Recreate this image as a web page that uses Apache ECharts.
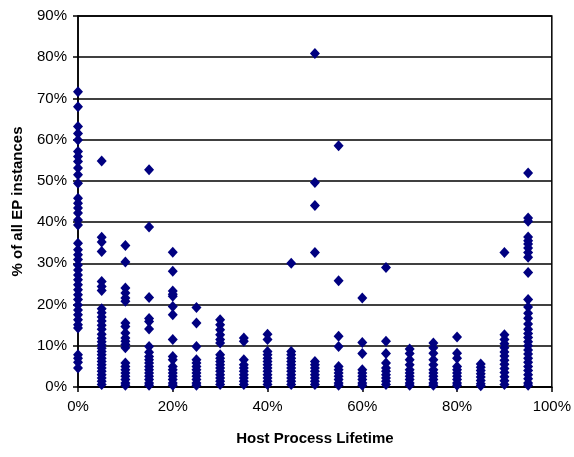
<!DOCTYPE html>
<html>
<head>
<meta charset="utf-8">
<script src="https://cdn.jsdelivr.net/npm/echarts@6/dist/echarts.min.js"></script>
<style>
  html, body { margin: 0; padding: 0; background: #fff; }
  #chart { width: 574px; height: 457px; }
</style>
</head>
<body>
<div id="chart"></div>
<script>
// Host process lifetime buckets (percent)
const lifetimes = [0, 5, 10, 15, 20, 25, 30, 35, 40, 45, 50, 55, 60, 65, 70, 75, 80, 85, 90, 95];

// Share of all EP instances (percent) observed in each lifetime bucket
const at00 = [71.6, 68.0, 63.2, 61.5, 59.9, 57.1, 55.9, 54.7, 53.1, 51.5, 49.4, 45.8, 44.6, 43.4, 42.2, 40.5, 39.3, 34.9, 33.3, 32.1, 30.9, 29.6, 28.4, 27.2, 26.0, 24.8, 23.6, 22.4, 21.2, 19.9, 18.7, 17.5, 16.3, 15.1, 14.3, 7.8, 7.0, 6.0, 4.6];
const at05 = [54.8, 36.3, 35.2, 32.9, 25.6, 24.4, 23.4, 19.0, 18.0, 17.0, 16.0, 15.0, 14.0, 12.8, 11.8, 11.0, 10.2, 9.4, 8.6, 7.8, 7.0, 6.2, 5.4, 4.6, 3.8, 3.0, 2.2, 1.4, 0.6];
const at10 = [34.3, 30.3, 24.0, 22.8, 21.6, 20.8, 15.5, 14.7, 13.1, 11.9, 11.1, 10.3, 9.5, 5.8, 5.0, 4.2, 3.4, 2.6, 1.8, 1.0, 0.4];
const at15 = [52.7, 38.8, 21.7, 16.6, 15.9, 14.1, 9.8, 8.4, 7.4, 6.6, 5.8, 5.0, 4.2, 3.4, 2.6, 1.8, 1.0, 0.4];
const at20 = [32.7, 28.1, 23.3, 22.5, 22.0, 19.5, 17.5, 11.5, 7.4, 6.6, 5.0, 4.2, 3.4, 2.6, 1.8, 1.0, 0.4];
const at25 = [19.3, 15.5, 9.8, 6.6, 5.8, 5.0, 4.2, 3.4, 2.6, 1.8, 1.0, 0.4];
const at30 = [16.3, 15.1, 13.9, 12.7, 11.5, 10.7, 7.8, 7.0, 6.2, 5.4, 4.6, 3.8, 3.0, 2.2, 1.4, 0.6];
const at35 = [11.9, 11.1, 6.6, 5.4, 4.6, 3.8, 3.0, 2.2, 1.4, 0.6];
const at40 = [12.8, 11.5, 8.6, 7.8, 7.0, 6.2, 5.4, 4.6, 3.8, 3.0, 2.2, 1.4, 0.6];
const at45 = [30.0, 8.6, 7.8, 7.0, 6.2, 5.4, 4.6, 3.8, 3.0, 2.2, 1.4, 0.6];
const at50 = [80.9, 49.6, 44.0, 32.6, 6.2, 5.4, 4.6, 3.8, 3.0, 2.2, 1.4, 0.6];
const at55 = [58.5, 25.8, 12.3, 9.8, 5.0, 4.2, 3.4, 2.6, 1.8, 1.0, 0.4];
const at60 = [21.6, 10.8, 8.1, 4.2, 3.4, 2.6, 1.8, 1.0, 0.4];
const at65 = [29.0, 11.1, 8.1, 5.8, 4.6, 3.8, 3.0, 2.2, 1.4, 0.6];
const at70 = [9.2, 8.1, 6.6, 5.4, 4.2, 3.4, 2.6, 1.8, 1.0, 0.4];
const at75 = [10.7, 9.5, 8.2, 6.6, 5.4, 4.2, 3.4, 2.6, 1.8, 1.0, 0.4];
const at80 = [12.1, 8.2, 7.0, 5.0, 4.2, 3.4, 2.6, 1.8, 1.0, 0.4];
const at85 = [5.6, 4.8, 4.0, 3.2, 2.4, 1.6, 0.8, 0.3];
const at90 = [32.6, 12.7, 11.5, 10.5, 9.5, 8.5, 7.5, 6.5, 5.5, 4.5, 3.5, 2.5, 1.5, 0.6];
const at95 = [51.9, 41.0, 40.2, 36.4, 35.5, 34.7, 33.7, 32.6, 31.5, 27.8, 21.2, 19.4, 17.9, 16.7, 15.3, 14.0, 13.0, 12.0, 11.0, 10.0, 9.0, 8.0, 7.0, 6.0, 5.0, 4.0, 3.0, 2.0, 1.0, 0.4];

const shareColumns = [at00, at05, at10, at15, at20, at25, at30, at35, at40, at45,
                      at50, at55, at60, at65, at70, at75, at80, at85, at90, at95];

// Axis ranges and tick steps
const xMax = 100, xStep = 20;
const yMax = 90, yStep = 10;

const points = [];
lifetimes.forEach((lt, i) => {
  shareColumns[i].forEach(v => points.push([lt, v]));
});

const font = 'Liberation Sans, Arial, sans-serif';
const chart = echarts.init(document.getElementById('chart'), null, { renderer: 'canvas' });
chart.setOption({
  animation: false,
  backgroundColor: '#fff',
  grid: {
    left: 78, right: 20, top: 16, bottom: 70,
    show: true, borderColor: '#000', borderWidth: 1.5, backgroundColor: 'transparent'
  },
  xAxis: {
    type: 'value', min: 0, max: xMax, interval: xStep,
    name: 'Host Process Lifetime', nameLocation: 'middle', nameGap: 44,
    nameTextStyle: { fontFamily: font, fontSize: 15, fontWeight: 'bold', color: '#000' },
    axisLine: { show: true, lineStyle: { color: '#000', width: 1.5 } },
    axisTick: { show: true, inside: false, length: 5, lineStyle: { color: '#000', width: 1.5 } },
    axisLabel: { formatter: '{value}%', fontFamily: font, fontSize: 15, color: '#000', margin: 12 },
    splitLine: { show: false }
  },
  yAxis: {
    type: 'value', min: 0, max: yMax, interval: yStep,
    name: '% of all EP instances', nameLocation: 'middle', nameGap: 53, nameRotate: 90,
    nameTextStyle: { fontFamily: font, fontSize: 15, fontWeight: 'bold', color: '#000' },
    axisLine: { show: true, lineStyle: { color: '#000', width: 1.5 } },
    axisTick: { show: true, inside: false, length: 5, lineStyle: { color: '#000', width: 1.5 } },
    axisLabel: { formatter: '{value}%', fontFamily: font, fontSize: 15, color: '#000', margin: 11 },
    splitLine: { show: true, lineStyle: { color: '#000', width: 1.5 } }
  },
  series: [{
    type: 'scatter',
    data: points,
    symbol: 'diamond',
    symbolSize: [10, 11],
    itemStyle: { color: '#000080', opacity: 1 },
    emphasis: { disabled: true }
  }]
});
</script>
</body>
</html>
